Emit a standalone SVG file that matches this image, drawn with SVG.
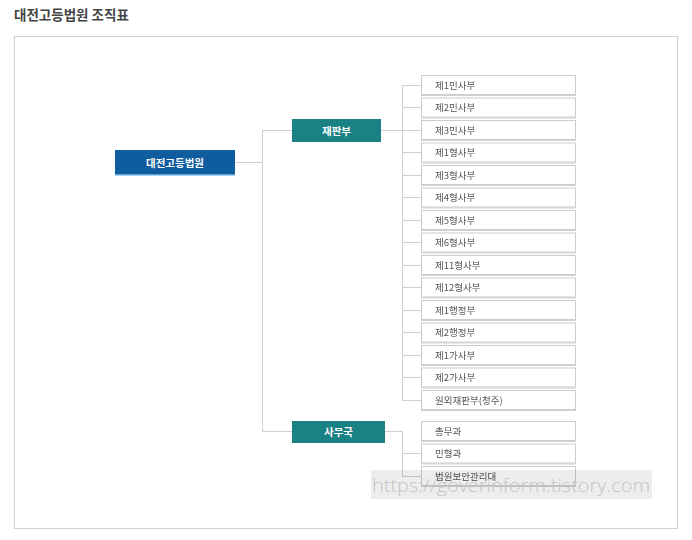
<svg xmlns="http://www.w3.org/2000/svg" width="692" height="540" viewBox="0 0 692 540">
<style>
.t{font-family:"Noto Sans CJK KR","Noto Sans",sans-serif}
.ln{stroke:#cfcfcf;stroke-width:1;fill:none}
.box{fill:#fff;stroke:#cccccc;stroke-width:1}
.bt{font-family:"Noto Sans CJK KR","Noto Sans",sans-serif;font-size:9.5px;fill:#555}
.wt{font-family:"Noto Sans CJK KR","Noto Sans",sans-serif;font-size:10.5px;font-weight:bold;fill:#fff;text-anchor:middle}
.teal{fill:#1a8184}
</style>
<defs>
<filter id="sh" x="-5%" y="-20%" width="110%" height="160%">
<feDropShadow dx="0" dy="1" stdDeviation="0.4" flood-color="#000" flood-opacity="0.18"/>
</filter>
</defs>
<rect width="692" height="540" fill="#fff"/>
<text class="t" x="14" y="20" font-size="13.5" font-weight="bold" fill="#444">대전고등법원 조직표</text>
<rect x="14.5" y="36.5" width="663" height="492" fill="#fff" stroke="#d0d0d0"/>

<g id="connectors">
<path class="ln" d="M235 162.5H262.5M262.5 130V431M262 130.5H292M262 431.5H292"/>
<path class="ln" d="M381 130.5H402.5M402.5 85V400.5"/>
<path class="ln" d="M402 85.5H421M402 107.5H421M402 130.5H421M402 152.5H421M402 175.5H421M402 197.5H421M402 220.5H421M402 242.5H421M402 265.5H421M402 287.5H421M402 310.5H421M402 332.5H421M402 355.5H421M402 377.5H421M402 400.5H421"/>
<path class="ln" d="M385 431.5H402.5M402.5 431V476.5M402 453.5H421M402 476.5H421"/>
</g>

<g id="root">
<rect x="115" y="150" width="120" height="25" fill="#0f5c9e"/>
<rect x="115" y="174" width="120" height="1.5" fill="#5aa6e0"/>
<text class="wt" x="175" y="166.5">대전고등법원</text>
</g>
<g id="jaepanbu">
<rect class="teal" x="292" y="119" width="89" height="23"/>
<text class="wt" x="336.5" y="134.5">재판부</text>
</g>
<g id="samuguk">
<rect class="teal" x="292" y="421" width="93" height="22"/>
<text class="wt" x="338.5" y="436">사무국</text>
</g>

<g filter="url(#sh)">
<g id="n1"><rect class="box" x="421.5" y="75.5" width="154" height="19"/><text class="bt" x="435" y="88.5">제1민사부</text></g>
<g id="n2"><rect class="box" x="421.5" y="98" width="154" height="19"/><text class="bt" x="435" y="111">제2민사부</text></g>
<g id="n3"><rect class="box" x="421.5" y="120.5" width="154" height="19"/><text class="bt" x="435" y="133.5">제3민사부</text></g>
<g id="n4"><rect class="box" x="421.5" y="143" width="154" height="19"/><text class="bt" x="435" y="156">제1형사부</text></g>
<g id="n5"><rect class="box" x="421.5" y="165.5" width="154" height="19"/><text class="bt" x="435" y="178.5">제3형사부</text></g>
<g id="n6"><rect class="box" x="421.5" y="188" width="154" height="19"/><text class="bt" x="435" y="201">제4형사부</text></g>
<g id="n7"><rect class="box" x="421.5" y="210.5" width="154" height="19"/><text class="bt" x="435" y="223.5">제5형사부</text></g>
<g id="n8"><rect class="box" x="421.5" y="233" width="154" height="19"/><text class="bt" x="435" y="246">제6형사부</text></g>
<g id="n9"><rect class="box" x="421.5" y="255.5" width="154" height="19"/><text class="bt" x="435" y="268.5">제11형사부</text></g>
<g id="n10"><rect class="box" x="421.5" y="278" width="154" height="19"/><text class="bt" x="435" y="291">제12형사부</text></g>
<g id="n11"><rect class="box" x="421.5" y="300.5" width="154" height="19"/><text class="bt" x="435" y="313.5">제1행정부</text></g>
<g id="n12"><rect class="box" x="421.5" y="323" width="154" height="19"/><text class="bt" x="435" y="336">제2행정부</text></g>
<g id="n13"><rect class="box" x="421.5" y="345.5" width="154" height="19"/><text class="bt" x="435" y="358.5">제1가사부</text></g>
<g id="n14"><rect class="box" x="421.5" y="368" width="154" height="19"/><text class="bt" x="435" y="381">제2가사부</text></g>
<g id="n15"><rect class="box" x="421.5" y="390.5" width="154" height="19"/><text class="bt" x="435" y="403.5">원외재판부(청주)</text></g>
<g id="s1"><rect class="box" x="421.5" y="421.5" width="154" height="19"/><text class="bt" x="435" y="434.5">총무과</text></g>
<g id="s2"><rect class="box" x="421.5" y="444" width="154" height="19"/><text class="bt" x="435" y="457">민형과</text></g>
<g id="s3"><rect class="box" x="421.5" y="466.5" width="154" height="19"/><text class="bt" x="435" y="479.5">법원보안관리대</text></g>
</g>

<g id="watermark">
<rect x="371" y="470" width="281" height="29" fill="#000" fill-opacity="0.07"/>
<text x="372" y="492" font-family="'Open Sans',sans-serif" font-size="19" font-weight="300" fill="#c4c4c4" textLength="278" lengthAdjust="spacingAndGlyphs">https://goverinform.tistory.com</text>
</g>
</svg>
